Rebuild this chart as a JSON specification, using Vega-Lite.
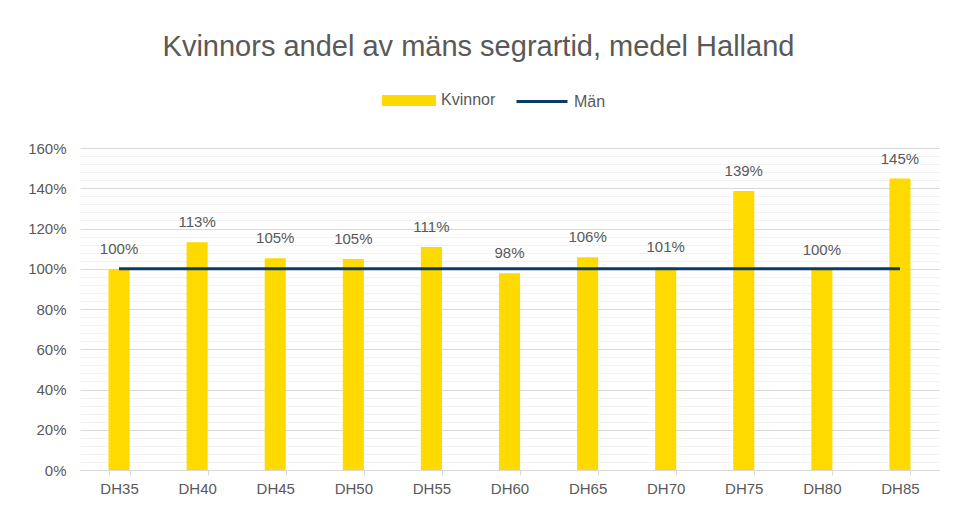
{
  "$schema": "https://vega.github.io/schema/vega-lite/v6.json",
  "width": 859,
  "height": 322,
  "autosize": {"type": "none"},
  "padding": {"left": 80, "top": 148, "right": 18, "bottom": 37},
  "background": "white",
  "title": {
    "text": "Kvinnors andel av mäns segrartid, medel Halland",
    "fontSize": 29,
    "font": "Liberation Sans",
    "fontWeight": "normal",
    "color": "#595959",
    "anchor": "middle",
    "dx": -31,
    "offset": 11
  },
  "config": {
    "view": {"stroke": null},
    "font": "Liberation Sans",
    "axisY": {
      "title": null,
      "domain": false,
      "ticks": false,
      "labelFontSize": 15,
      "labelColor": "#595959",
      "labelPadding": 14,
      "gridWidth": 1
    }
  },
  "data": {
    "values": [
      {"cat": "DH35", "kvinnor": 0.998, "man": 1.0},
      {"cat": "DH40", "kvinnor": 1.132, "man": 1.0},
      {"cat": "DH45", "kvinnor": 1.052, "man": 1.0},
      {"cat": "DH50", "kvinnor": 1.049, "man": 1.0},
      {"cat": "DH55", "kvinnor": 1.108, "man": 1.0},
      {"cat": "DH60", "kvinnor": 0.978, "man": 1.0},
      {"cat": "DH65", "kvinnor": 1.057, "man": 1.0},
      {"cat": "DH70", "kvinnor": 1.008, "man": 1.0},
      {"cat": "DH75", "kvinnor": 1.386, "man": 1.0},
      {"cat": "DH80", "kvinnor": 0.996, "man": 1.0},
      {"cat": "DH85", "kvinnor": 1.448, "man": 1.0}
    ]
  },
  "encoding": {
    "x": {
      "field": "cat",
      "type": "nominal",
      "sort": null,
      "scale": {"paddingInner": 0.73, "paddingOuter": 0.365},
      "axis": {
        "title": null,
        "labelAngle": 0,
        "labelFontSize": 15,
        "labelColor": "#595959",
        "labelPadding": 6,
        "domainColor": "#D9D9D9",
        "tickColor": "#D9D9D9",
        "tickSize": 5,
        "tickBand": "extent",
        "grid": false
      }
    },
    "y": {
      "field": "kvinnor",
      "type": "quantitative",
      "scale": {"domain": [0, 1.6], "nice": false},
      "axis": {
        "title": null,
        "values": [0, 0.04, 0.08, 0.12, 0.16, 0.2, 0.24, 0.28, 0.32, 0.36, 0.4, 0.44, 0.48, 0.52, 0.56, 0.6, 0.64, 0.68, 0.72, 0.76, 0.8, 0.84, 0.88, 0.92, 0.96, 1.0, 1.04, 1.08, 1.12, 1.16, 1.2, 1.24, 1.28, 1.32, 1.36, 1.4, 1.44, 1.48, 1.52, 1.56, 1.6],
        "labelExpr": "abs(datum.value*5 - round(datum.value*5)) < 0.001 ? format(datum.value, '.0%') : ''",
        "gridColor": {
          "condition": {"test": "abs(datum.value*5 - round(datum.value*5)) < 0.001", "value": "#D9D9D9"},
          "value": "#F2F2F2"
        }
      }
    }
  },
  "layer": [
    {
      "mark": {"type": "bar", "color": "#FFDA00"},
      "encoding": {
        "color": {
          "datum": "Kvinnor",
          "scale": {"domain": ["Kvinnor", "Män"], "range": ["#FFDA00", "#0B3C68"]},
          "legend": {
            "orient": "none",
            "legendX": 302,
            "legendY": -75,
            "direction": "horizontal",
            "title": null,
            "symbolSize": 2601,
            "labelFontSize": 16,
            "labelColor": "#595959",
            "labelOffset": 5,
            "columnPadding": 14,
            "encode": {
              "symbols": {
                "update": {
                  "shape": {"signal": "datum.value === 'Kvinnor' ? 'M-1,-0.16H1V0.16H-1Z' : 'M-1,0H1'"},
                  "fill": {"signal": "datum.value === 'Kvinnor' ? '#FFDA00' : 'transparent'"},
                  "stroke": {"signal": "datum.value === 'Kvinnor' ? 'transparent' : '#0B3C68'"},
                  "strokeWidth": {"value": 3},
                  "opacity": {"value": 1}
                }
              }
            }
          }
        }
      }
    },
    {
      "mark": {"type": "line", "strokeWidth": 3},
      "encoding": {
        "y": {
          "field": "man",
          "type": "quantitative",
          "axis": {
            "title": null,
            "values": [0, 0.04, 0.08, 0.12, 0.16, 0.2, 0.24, 0.28, 0.32, 0.36, 0.4, 0.44, 0.48, 0.52, 0.56, 0.6, 0.64, 0.68, 0.72, 0.76, 0.8, 0.84, 0.88, 0.92, 0.96, 1.0, 1.04, 1.08, 1.12, 1.16, 1.2, 1.24, 1.28, 1.32, 1.36, 1.4, 1.44, 1.48, 1.52, 1.56, 1.6],
            "labelExpr": "abs(datum.value*5 - round(datum.value*5)) < 0.001 ? format(datum.value, '.0%') : ''",
            "gridColor": {
              "condition": {"test": "abs(datum.value*5 - round(datum.value*5)) < 0.001", "value": "#D9D9D9"},
              "value": "#F2F2F2"
            }
          }
        },
        "color": {"datum": "Män"}
      }
    },
    {
      "mark": {"type": "text", "baseline": "alphabetic", "dy": -15, "fontSize": 15, "color": "#595959"},
      "encoding": {
        "text": {"field": "kvinnor", "type": "quantitative", "format": ".0%"}
      }
    }
  ]
}
